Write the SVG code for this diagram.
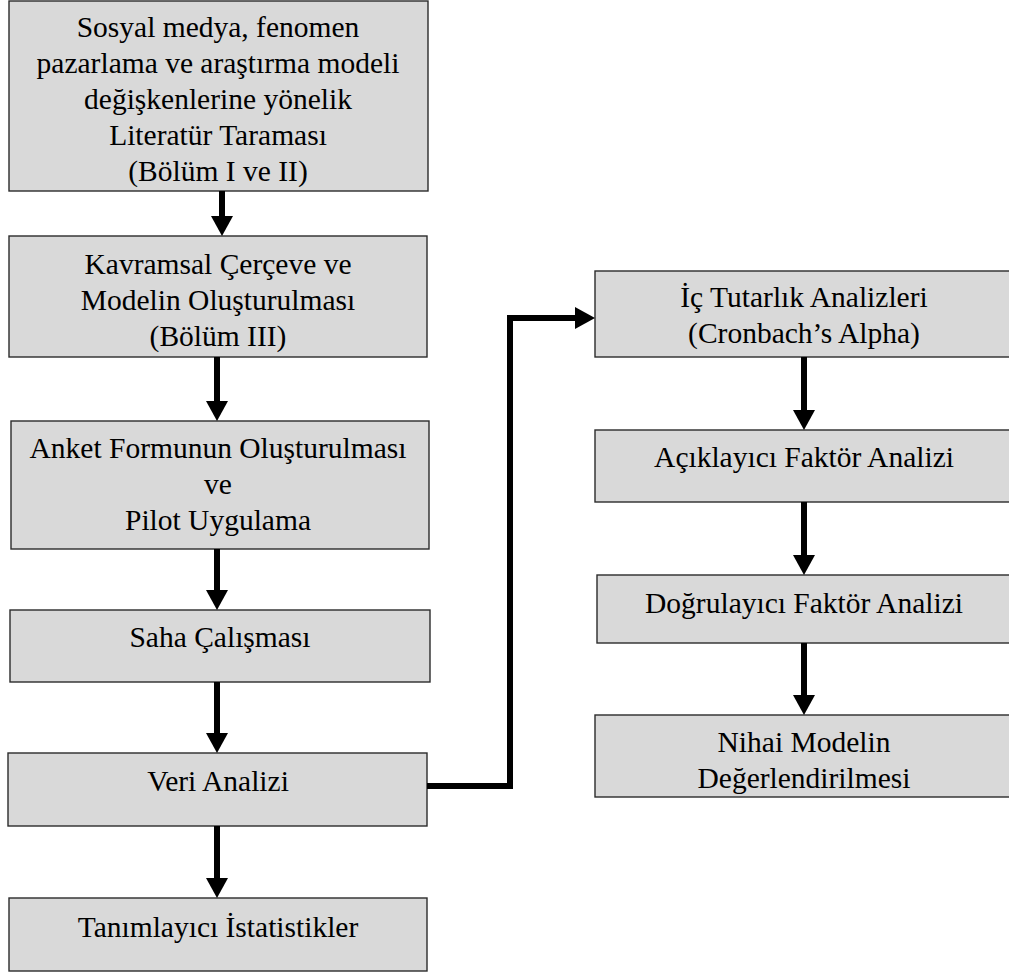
<svg xmlns="http://www.w3.org/2000/svg" width="1009" height="974" viewBox="0 0 1009 974">
  <style>
    .box { fill: #d9d9d9; stroke: #2b2b2b; stroke-width: 1.4; }
    .lbl { font-family: "Liberation Serif", "Times New Roman", serif; font-size: 29.5px; fill: #000; text-anchor: middle; }
    .flow { fill: none; stroke: #000; stroke-width: 6; stroke-linejoin: miter; }
  </style>
  <defs>
    <marker id="head" viewBox="0 0 20 22" refX="0" refY="11" markerWidth="20" markerHeight="22" markerUnits="userSpaceOnUse" orient="auto">
      <path d="M0,0 L20,11 L0,22 z" fill="#000"/>
    </marker>
  </defs>
  <rect width="1009" height="974" fill="#fff"/>

  <!-- left column -->
  <g id="literatur">
    <rect class="box" x="9" y="1" width="419" height="190"/>
    <text class="lbl" x="218" y="37">Sosyal medya, fenomen</text>
    <text class="lbl" x="218" y="73">pazarlama ve araştırma modeli</text>
    <text class="lbl" x="218" y="109">değişkenlerine yönelik</text>
    <text class="lbl" x="218" y="145">Literatür Taraması</text>
    <text class="lbl" x="218" y="181">(Bölüm I ve II)</text>
  </g>
  <g id="kavramsal">
    <rect class="box" x="9" y="236" width="418" height="121"/>
    <text class="lbl" x="218" y="274">Kavramsal Çerçeve ve</text>
    <text class="lbl" x="218" y="310">Modelin Oluşturulması</text>
    <text class="lbl" x="218" y="346">(Bölüm III)</text>
  </g>
  <g id="anket">
    <rect class="box" x="11" y="421" width="418" height="128"/>
    <text class="lbl" x="218" y="458">Anket Formunun Oluşturulması</text>
    <text class="lbl" x="218" y="494">ve</text>
    <text class="lbl" x="218" y="530">Pilot Uygulama</text>
  </g>
  <g id="saha">
    <rect class="box" x="10" y="610" width="420" height="72"/>
    <text class="lbl" x="220" y="647">Saha Çalışması</text>
  </g>
  <g id="veri">
    <rect class="box" x="8" y="753" width="419" height="73"/>
    <text class="lbl" x="218" y="791">Veri Analizi</text>
  </g>
  <g id="tanimlayici">
    <rect class="box" x="9" y="898" width="418" height="73"/>
    <text class="lbl" x="218" y="937">Tanımlayıcı İstatistikler</text>
  </g>

  <!-- right column -->
  <g id="ic-tutarlik">
    <rect class="box" x="595" y="271" width="420" height="86"/>
    <text class="lbl" x="804" y="307">İç Tutarlık Analizleri</text>
    <text class="lbl" x="804" y="343">(Cronbach’s Alpha)</text>
  </g>
  <g id="aciklayici">
    <rect class="box" x="595" y="430" width="420" height="72"/>
    <text class="lbl" x="804" y="467">Açıklayıcı Faktör Analizi</text>
  </g>
  <g id="dogrulayici">
    <rect class="box" x="597" y="575" width="418" height="68"/>
    <text class="lbl" x="804" y="613">Doğrulayıcı Faktör Analizi</text>
  </g>
  <g id="nihai">
    <rect class="box" x="595" y="715" width="420" height="82"/>
    <text class="lbl" x="804" y="752">Nihai Modelin</text>
    <text class="lbl" x="804" y="788">Değerlendirilmesi</text>
  </g>

  <!-- connectors -->
  <g id="connectors">
    <line class="flow" x1="222" y1="191" x2="222" y2="216" marker-end="url(#head)"/>
    <line class="flow" x1="217" y1="357" x2="217" y2="401" marker-end="url(#head)"/>
    <line class="flow" x1="217" y1="549" x2="217" y2="590" marker-end="url(#head)"/>
    <line class="flow" x1="217" y1="682" x2="217" y2="733" marker-end="url(#head)"/>
    <line class="flow" x1="217" y1="826" x2="217" y2="878" marker-end="url(#head)"/>
    <path class="flow" d="M427,786 H510 V318 H575" marker-end="url(#head)"/>
    <line class="flow" x1="804" y1="357" x2="804" y2="410" marker-end="url(#head)"/>
    <line class="flow" x1="804" y1="502" x2="804" y2="555" marker-end="url(#head)"/>
    <line class="flow" x1="804" y1="643" x2="804" y2="695" marker-end="url(#head)"/>
  </g>
</svg>
